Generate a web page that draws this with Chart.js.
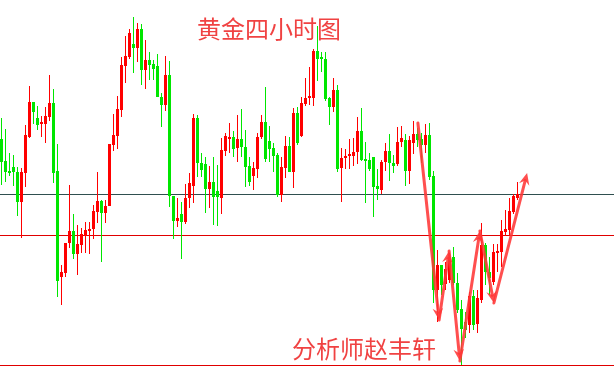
<!DOCTYPE html>
<html>
<head>
<meta charset="utf-8">
<title>黄金四小时图</title>
<script src="https://cdn.jsdelivr.net/npm/chart.js@4.4.1/dist/chart.umd.min.js"></script>
<style>
    html, body { margin: 0; padding: 0; background: #ffffff; overflow: hidden; }
    canvas { display: block; }
</style>
</head>
<body>
<canvas id="diagram-canvas" width="614" height="391"></canvas>
<script>
// 4h candles, oldest first (price points)
const opens = [
    261, 239, 229, 233, 228, 198, 227, 263, 298, 282,
    276, 276, 283, 297, 229, 123, 127, 157, 169, 146,
    155, 164, 169, 171, 188, 199, 187, 194, 255, 264,
    290, 334, 343, 356, 352, 371, 330, 340, 336, 334,
    303, 295, 325, 204, 179, 186, 178, 202, 214, 282,
    237, 236, 211, 218, 209, 202, 249, 261, 263, 252,
    261, 253, 234, 224, 231, 263, 278, 259, 252, 245,
    205, 232, 254, 228, 287, 264, 296, 302, 302, 349,
    343, 341, 302, 293, 310, 232, 242, 244, 244, 248,
    269, 241, 240, 243, 214, 210, 238, 249, 237, 236,
    258, 260, 229, 257, 266, 261, 255, 265, 224, 110,
    135, 116, 120, 143, 117, 91, 78, 75, 104, 76,
    100, 155, 128, 118, 147, 148, 168, 170, 188, 202
];
const highs = [
    282, 271, 247, 245, 233, 232, 275, 314, 298, 294,
    284, 293, 325, 311, 256, 135, 157, 215, 186, 175,
    172, 178, 178, 195, 228, 200, 200, 256, 286, 304,
    343, 364, 371, 383, 377, 376, 360, 348, 340, 346,
    307, 344, 339, 204, 202, 198, 216, 227, 286, 285,
    247, 243, 234, 243, 235, 262, 267, 277, 269, 285,
    291, 270, 243, 238, 267, 285, 313, 274, 257, 247,
    243, 264, 263, 292, 293, 303, 322, 333, 351, 374,
    348, 348, 303, 322, 315, 252, 251, 261, 262, 283,
    292, 258, 247, 243, 231, 240, 257, 266, 245, 273,
    274, 266, 264, 279, 272, 267, 276, 277, 229, 150,
    135, 138, 147, 153, 127, 100, 88, 108, 110, 110,
    177, 157, 143, 156, 156, 180, 190, 202, 206, 218
];
const lows = [
    215, 218, 224, 214, 184, 162, 213, 262, 276, 270,
    263, 257, 279, 217, 103, 95, 123, 152, 141, 125,
    147, 147, 146, 161, 177, 138, 177, 194, 249, 251,
    283, 317, 341, 327, 338, 315, 311, 320, 320, 303,
    273, 289, 193, 161, 173, 141, 176, 192, 197, 223,
    223, 187, 192, 175, 174, 186, 244, 247, 243, 238,
    243, 213, 214, 210, 222, 261, 238, 238, 228, 203,
    198, 222, 228, 212, 255, 263, 294, 295, 294, 319,
    328, 299, 275, 288, 228, 198, 231, 231, 234, 236,
    239, 197, 229, 183, 200, 206, 229, 219, 227, 234,
    253, 214, 216, 246, 253, 237, 247, 220, 97, 78,
    105, 110, 117, 115, 87, 35, 62, 67, 70, 67,
    97, 115, 105, 115, 128, 133, 164, 165, 186, 200
];
const closes = [
    238, 228, 227, 228, 198, 228, 265, 298, 288, 275,
    277, 284, 297, 227, 119, 128, 157, 169, 146, 156,
    166, 170, 171, 189, 199, 187, 194, 256, 265, 291,
    335, 344, 367, 352, 371, 330, 340, 335, 331, 303,
    295, 325, 204, 179, 182, 178, 202, 217, 282, 237,
    230, 211, 218, 203, 203, 250, 264, 263, 251, 261,
    253, 233, 218, 232, 263, 278, 241, 251, 244, 205,
    233, 254, 228, 287, 257, 297, 302, 303, 349, 341,
    341, 301, 293, 310, 231, 242, 243, 245, 248, 269,
    240, 239, 231, 213, 211, 238, 249, 237, 234, 258,
    262, 229, 260, 266, 260, 255, 265, 223, 110, 135,
    115, 131, 143, 117, 90, 71, 70, 104, 75, 102,
    155, 128, 122, 148, 149, 169, 171, 189, 204, 206
];

// horizontal levels drawn on the chart
const levelValues = [206, 165, 35];
const levelColors = ["#2f4f4f", "#e00000", "#e00000"];

// hand drawn arrow path: candle index / price
const arrowIdx = [104.1, 109.4, 111.9, 114.6, 119.6, 123.1, 131.4];
const arrowVal = [277, 80, 149, 39, 169, 97, 227];

const titleText = "黄金四小时图";
const footText = "分析师赵丰轩";

const upColor = "#ff0000";
const downColor = "#00e600";

let diagramCanvas;
let chart;

const overlayPlugin = {
    id: "overlay",
    beforeDatasetsDraw(c) {
        const ctx = c.ctx;
        const area = c.chartArea;
        const y = c.scales.y;
        ctx.save();
        ctx.lineWidth = 1;
        levelValues.forEach((v, i) => {
            const py = Math.round(y.getPixelForValue(v)) + 0.5;
            ctx.strokeStyle = levelColors[i];
            ctx.beginPath();
            ctx.moveTo(area.left, py);
            ctx.lineTo(area.right, py);
            ctx.stroke();
        });
        ctx.restore();
    },
    afterDatasetsDraw(c) {
        const ctx = c.ctx;
        const x = c.scales.x;
        const y = c.scales.y;
        ctx.save();
        ctx.strokeStyle = "rgba(255, 55, 55, 0.88)";
        ctx.fillStyle = "rgba(255, 55, 55, 0.88)";
        ctx.lineWidth = 3;
        ctx.lineCap = "round";
        for (let i = 1; i < arrowIdx.length; i++) {
            const x0 = x.getPixelForValue(arrowIdx[i - 1]);
            const y0 = y.getPixelForValue(arrowVal[i - 1]);
            const x1 = x.getPixelForValue(arrowIdx[i]);
            const y1 = y.getPixelForValue(arrowVal[i]);
            const ang = Math.atan2(y1 - y0, x1 - x0);
            const head = 13;
            ctx.beginPath();
            ctx.moveTo(x0, y0);
            ctx.lineTo(x1 - head * 0.6 * Math.cos(ang), y1 - head * 0.6 * Math.sin(ang));
            ctx.stroke();
            ctx.beginPath();
            ctx.moveTo(x1, y1);
            ctx.lineTo(x1 - head * Math.cos(ang - 0.42), y1 - head * Math.sin(ang - 0.42));
            ctx.lineTo(x1 - head * 0.6 * Math.cos(ang), y1 - head * 0.6 * Math.sin(ang));
            ctx.lineTo(x1 - head * Math.cos(ang + 0.42), y1 - head * Math.sin(ang + 0.42));
            ctx.closePath();
            ctx.fill();
        }

        ctx.font = '24px "Noto Sans CJK SC", sans-serif';
        ctx.fillStyle = "rgba(238, 45, 45, 0.9)";
        ctx.textBaseline = "middle";
        ctx.textAlign = "left";
        ctx.fillText(titleText, 197, 29);
        ctx.fillText(footText, 292, 349);
        ctx.restore();
    }
};

document.addEventListener("DOMContentLoaded", function() {
    diagramCanvas = document.getElementById("diagram-canvas");
    createDiagram();
});

function createDiagram() {
    const idx = opens.map((_, i) => i);
    const colors = idx.map(i => closes[i] >= opens[i] ? upColor : downColor);

    chart = new Chart(diagramCanvas, {
        type: "bar",
        data: {
            datasets: [{
                label: "body",
                data: idx.map(i => ({ x: i, y: [opens[i], closes[i]] })),
                backgroundColor: colors,
                barThickness: 3,
                maxBarThickness: 3,
                minBarLength: 2,
                grouped: false,
                inflateAmount: 0,
                borderWidth: 0
            }, {
                label: "wick",
                data: idx.map(i => ({ x: i, y: [lows[i], highs[i]] })),
                backgroundColor: colors,
                barThickness: 1,
                maxBarThickness: 1,
                grouped: false,
                inflateAmount: 0,
                borderWidth: 0
            }]
        },
        options: {
            responsive: false,
            animation: false,
            layout: { padding: 0 },
            plugins: {
                legend: { display: false },
                tooltip: { enabled: false }
            },
            scales: {
                x: { type: "linear", display: false, min: -0.375, max: 153.125, offset: false },
                y: { display: false, min: 9, max: 400 }
            }
        },
        plugins: [overlayPlugin]
    });
}
</script>
</body>
</html>
